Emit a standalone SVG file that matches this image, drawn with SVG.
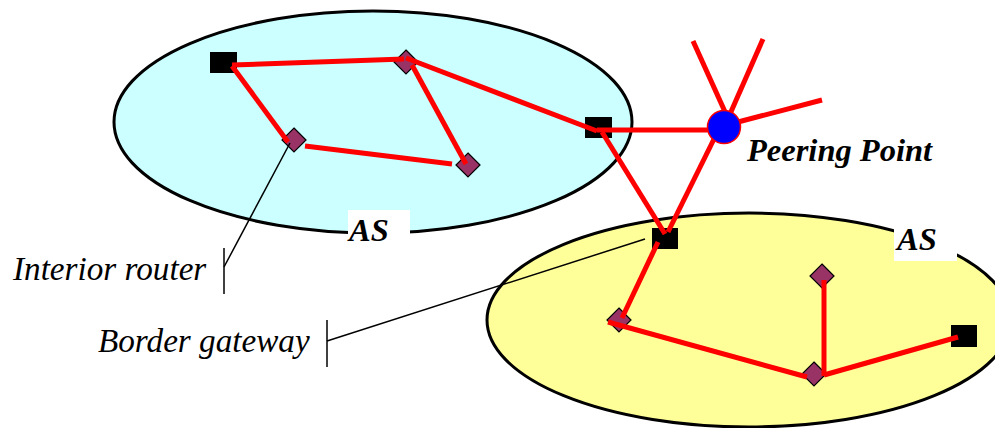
<svg xmlns="http://www.w3.org/2000/svg" width="995" height="428" viewBox="0 0 995 428">
<style>
.as{fill:#CCFFFF;stroke:#000;stroke-width:3}
.as2{fill:#FFFF99;stroke:#000;stroke-width:3}
.sq{fill:#000}
.dm{fill:#993366;stroke:#000;stroke-width:1.2}
.link{stroke:#FF0000;stroke-width:5;fill:none}
.lead{stroke:#000;stroke-width:1.5;fill:none}
.lbl{font-family:"Liberation Serif","Times New Roman",serif;font-size:33.2px;font-style:italic;fill:#000}
.b{font-weight:bold;font-size:32.5px}
.box{fill:#FFFFFF}
</style>
<rect width="995" height="428" fill="#FFFFFF"/>
<g id="as-blue"><ellipse class="as" cx="373" cy="122" rx="259" ry="111"/></g>
<g id="as-yellow"><ellipse class="as2" cx="749" cy="320" rx="262" ry="107"/></g>
<g id="as-blue-label"><rect class="box" x="348" y="210" width="62" height="37"/><text class="lbl b" x="349" y="241">AS</text></g>
<g id="as-yellow-label"><rect class="box" x="894" y="220" width="63" height="41"/><text class="lbl b" x="897" y="250">AS</text></g>
<g id="sq1"><rect class="sq" x="210" y="52" width="27" height="21"/></g>
<g id="sq2"><rect class="sq" x="585" y="117" width="27" height="21"/></g>
<g id="gateway"><rect class="sq" x="652" y="228" width="26" height="21"/></g>
<g id="sq3"><rect class="sq" x="951" y="325" width="26" height="22"/></g>
<g id="d1"><polygon class="dm" points="406,50 418,62 406,74 394,62"/></g>
<g id="d2"><polygon class="dm" points="294,128 306,140 294,152 282,140"/></g>
<g id="d3"><polygon class="dm" points="468,153 480,165 468,177 456,165"/></g>
<g id="d4"><polygon class="dm" points="619,308 631,320 619,332 607,320"/></g>
<g id="d5"><polygon class="dm" points="814,362 826,374 814,386 802,374"/></g>
<g id="d6"><polygon class="dm" points="822,264 834,276 822,288 810,276"/></g>
<g id="connectors">
<line class="link" x1="232" y1="65" x2="404" y2="59"/>
<line class="link" x1="232" y1="66" x2="288" y2="142"/>
<line class="link" x1="305" y1="146" x2="452" y2="164"/>
<line class="link" x1="412" y1="65" x2="466" y2="164"/>
<line class="link" x1="406" y1="58" x2="597" y2="131"/>
<line class="link" x1="597" y1="130" x2="710" y2="130"/>
<line class="link" x1="602" y1="132" x2="665" y2="234"/>
<line class="link" x1="714" y1="139" x2="668" y2="232"/>
<line class="link" x1="693" y1="41" x2="726" y2="114"/>
<line class="link" x1="763" y1="39" x2="730" y2="114"/>
<line class="link" x1="822" y1="100" x2="738" y2="122"/>
<line class="link" x1="658" y1="242" x2="622" y2="318"/>
<line class="link" x1="608" y1="322" x2="807" y2="377"/>
<line class="link" x1="824" y1="280" x2="824" y2="376"/>
<line class="link" x1="824" y1="375" x2="958" y2="337"/>
<line class="lead" x1="224" y1="267" x2="290" y2="143"/>
<line class="lead" x1="224" y1="248" x2="224" y2="294"/>
<line class="lead" x1="327" y1="341" x2="645" y2="239"/>
<line class="lead" x1="327" y1="320" x2="327" y2="367"/>
</g>
<g id="peering"><circle cx="724" cy="127" r="16.5" fill="#0000FF" stroke="#FF0000" stroke-width="1.5"/><text class="lbl b" x="747" y="161">Peering Point</text></g>
<g id="label-interior"><text class="lbl" x="13" y="280">Interior router</text></g>
<g id="label-border"><text class="lbl" x="98" y="352">Border gateway</text></g>
</svg>
